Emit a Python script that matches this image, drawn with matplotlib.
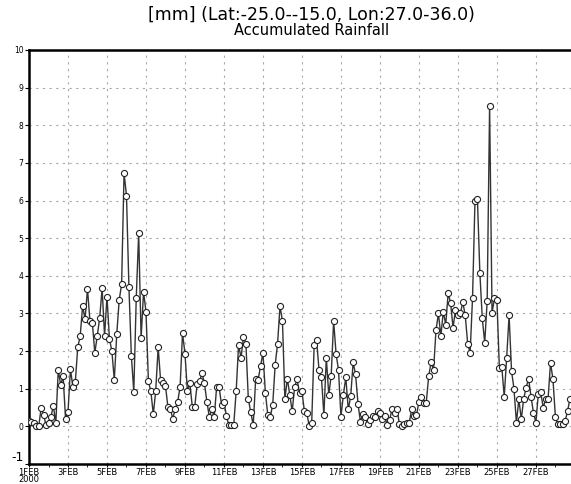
import numpy as np
import pandas as pd
import matplotlib
matplotlib.use("Agg")
from matplotlib import pyplot as plt
import matplotlib.dates as mdates

# 3-hourly area-mean accumulated rainfall [mm], starting 1 FEB 2000 00Z
rain = [
    0.14, 0.12, 0.10, 0.00, 0.00, 0.50, 0.30, 0.03,
    0.08, 0.25, 0.55, 0.08, 1.50, 1.10, 1.33, 0.20,
    0.38, 1.52, 1.05, 1.18, 2.10, 2.40, 3.20, 2.85,
    3.65, 2.80, 2.75, 1.95, 2.40, 2.88, 3.67, 2.40,
    3.45, 2.33, 2.00, 1.23, 2.45, 3.35, 3.78, 6.73,
    6.13, 3.70, 1.87, 0.92, 3.40, 5.13, 2.35, 3.57,
    3.05, 1.20, 0.93, 0.32, 0.95, 2.10, 1.22, 1.14,
    1.07, 0.52, 0.47, 0.20, 0.47, 0.65, 1.05, 2.48,
    1.93, 0.93, 1.15, 0.52, 0.52, 1.13, 1.20, 1.42,
    1.14, 0.65, 0.25, 0.45, 0.25, 1.05, 1.05, 0.57,
    0.65, 0.28, 0.03, 0.03, 0.03, 0.93, 2.17, 1.82,
    2.37, 2.20, 0.72, 0.37, 0.03, 1.25, 1.23, 1.60,
    1.95, 0.88, 0.30, 0.26, 0.57, 1.63, 2.20, 3.20,
    2.80, 0.72, 1.27, 0.84, 0.40, 1.05, 1.25, 0.88,
    0.93, 0.40, 0.35, 0.00, 0.10, 2.15, 2.30, 1.50,
    1.30, 0.30, 1.82, 0.84, 1.35, 2.80, 1.93, 1.50,
    0.26, 0.84, 1.30, 0.45, 0.80, 1.70, 1.38, 0.60,
    0.12, 0.33, 0.24, 0.05, 0.17, 0.28, 0.26, 0.40,
    0.36, 0.20, 0.27, 0.03, 0.18, 0.47, 0.36, 0.47,
    0.05, 0.00, 0.05, 0.10, 0.09, 0.45, 0.27, 0.30,
    0.65, 0.78, 0.63, 0.63, 1.33, 1.70, 1.50, 2.55,
    3.00, 2.40, 3.05, 2.70, 3.55, 3.27, 2.62, 3.10,
    2.97, 3.00, 3.30, 2.95, 2.20, 1.95, 3.42, 6.00,
    6.05, 4.08, 2.87, 2.22, 3.33, 8.52, 3.02, 3.40,
    3.35, 1.56, 1.58, 0.79, 1.82, 2.95, 1.47, 1.00,
    0.10, 0.72, 0.19, 0.74, 1.03, 1.27, 0.79, 0.36,
    0.10, 0.87, 0.90, 0.50, 0.72, 0.74, 1.69, 1.25,
    0.25, 0.05, 0.05, 0.05, 0.14, 0.41, 0.74,
]
times = pd.date_range("2000-02-01 00:00", periods=len(rain), freq="3h")

tick_days = pd.date_range("2000-02-01", "2000-02-27", freq="2D")
tick_labels = ["1FEB\n2000", "3FEB", "5FEB", "7FEB", "9FEB", "11FEB", "13FEB",
               "15FEB", "17FEB", "19FEB", "21FEB", "23FEB", "25FEB", "27FEB"]
y_ticks = list(range(-1, 11))

fig = plt.figure(figsize=(5.71, 4.84), dpi=100)
ax = fig.add_axes([0.0508, 0.0413, 0.9492, 0.8554])

ax.plot(times, rain, color="#333333", lw=1.0, marker="o", ms=4.4,
        mfc="white", mec="#222222", mew=0.8, zorder=3)

ax.set_xlim(times[0], times[0] + pd.Timedelta(hours=3 * 222.4))
ax.set_ylim(-1, 10)

ax.set_xticks(tick_days)
ax.set_xticklabels(tick_labels, fontsize=6, ha="center", va="top", linespacing=0.75)
ax.xaxis.set_minor_locator(mdates.DayLocator())
ax.set_yticks(y_ticks)
ax.set_yticklabels([str(v) for v in y_ticks], fontsize=5.5)
low = ax.get_yticklabels()[0]
low.set_fontsize(9)
low.set_va("bottom")

ax.tick_params(axis="y", which="major", length=3, width=0.8, pad=1)
ax.tick_params(axis="x", which="major", length=2.5, width=0.8, pad=0.5)
ax.tick_params(axis="x", which="minor", length=2, width=0.6)

ax.grid(True, color="#a8a8a8", linestyle=(0, (2, 4)), linewidth=0.8)

for s in ["left", "bottom"]:
    ax.spines[s].set_linewidth(1.8)
    ax.spines[s].set_color("black")
ax.spines["top"].set_linewidth(1.8)
ax.spines["top"].set_linestyle((0, (4, 1)))
ax.spines["right"].set_visible(False)

fig.text(0.545, 0.970, "[mm] (Lat:-25.0--15.0, Lon:27.0-36.0)", ha="center",
         va="center", fontsize=12.5)
fig.text(0.545, 0.936, "Accumulated Rainfall", ha="center", va="center", fontsize=10.5)

fig.savefig("out.png", dpi=100)
